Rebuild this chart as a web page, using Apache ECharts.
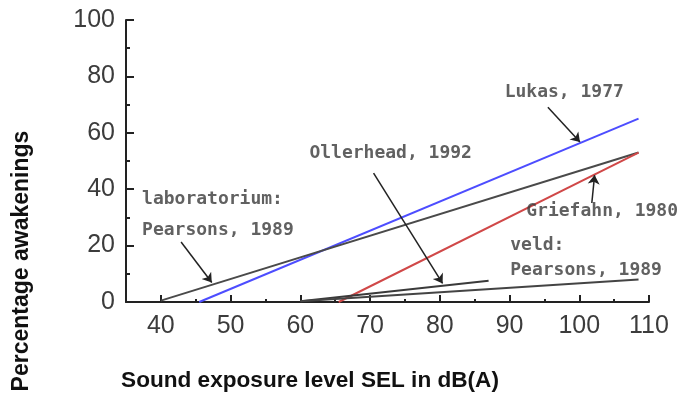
<!DOCTYPE html>
<html>
<head>
<meta charset="utf-8">
<script src="https://cdn.jsdelivr.net/npm/echarts@6/dist/echarts.min.js"></script>
<style>
  html, body { margin: 0; padding: 0; background: #fff; }
  #chart { width: 680px; height: 396px; }
</style>
</head>
<body>
<div id="chart"></div>
<script>
// Dose-response lines: [SEL dB(A), % awakenings] at start and end
const lukas1977 = [[45.5, 0], [108.5, 65]];
const labPearsons1989 = [[40, 0.5], [108.5, 53]];
const griefahn1980 = [[65.5, 0], [108.5, 53]];
const ollerhead1992 = [[60, 0.3], [87, 7.5]];
const veldPearsons1989 = [[60, 0.3], [108.5, 8]];

// Axis ticks
const xMajorTicks = [40, 50, 60, 70, 80, 90, 100, 110];
const xMinorTicks = [45, 55, 65, 75, 85, 95, 105];
const yTicks = [0, 20, 40, 60, 80, 100];

// Annotation labels: [x, y, text]
const annotationLabels = [
  [89.3, 74.5, 'Lukas, 1977'],
  [61.3, 52.8, 'Ollerhead, 1992'],
  [37.3, 36.5, 'laboratorium:'],
  [37.3, 25.5, 'Pearsons, 1989'],
  [92.4, 32.3, 'Griefahn, 1980'],
  [90.1, 20.2, 'veld:'],
  [90.1, 11.3, 'Pearsons, 1989']
];

// Pointer arrows: from label to line
const annotationArrows = [
  [[95.5, 69.1], [100.1, 56.7]],
  [[70.5, 45.7], [80.4, 6.6]],
  [[42.9, 21.3], [47.3, 6.9]],
  [[101.8, 35.1], [102.2, 45.0]]
];

const chart = echarts.init(document.getElementById('chart'), null, { renderer: 'canvas' });

const axisColor = '#222';
const labelFont = { fontFamily: 'Liberation Sans, Arial, sans-serif', fontSize: 25, color: '#3c3c3c' };
const annotFont = { fontFamily: 'DejaVu Sans Mono, monospace', fontWeight: 'bold', fontSize: 18, color: '#3a3a3a' };

function lineSeries(name, data, color, width) {
  return {
    name: name,
    type: 'line',
    data: data,
    symbol: 'none',
    lineStyle: { color: color, width: width },
    silent: true,
    z: 3
  };
}

chart.setOption({
  animation: false,
  backgroundColor: '#fff',
  grid: { left: 126, right: 31, top: 20, bottom: 94, containLabel: false },
  xAxis: [
    {
      type: 'value', min: 35, max: 110,
      axisLine: { show: true, lineStyle: { color: axisColor, width: 2 } },
      axisTick: { show: true, inside: true, length: 7, customValues: xMajorTicks, lineStyle: { color: axisColor, width: 2 } },
      axisLabel: Object.assign({ customValues: xMajorTicks, margin: 12 }, labelFont),
      splitLine: { show: false }
    },
    {
      type: 'value', min: 35, max: 110, position: 'bottom',
      axisLine: { show: false },
      axisTick: { show: true, inside: true, length: 3, customValues: xMinorTicks, lineStyle: { color: axisColor, width: 2 } },
      axisLabel: { show: false },
      splitLine: { show: false }
    }
  ],
  yAxis: {
    type: 'value', min: 0, max: 100, interval: 20,
    axisLine: { show: true, lineStyle: { color: axisColor, width: 2 } },
    axisTick: { show: true, inside: true, length: 8, lineStyle: { color: axisColor, width: 2 } },
    minorTick: { show: true, splitNumber: 2, length: 4, lineStyle: { color: axisColor, width: 2 } },
    axisLabel: Object.assign({ customValues: yTicks, margin: 11 }, labelFont),
    splitLine: { show: false }
  },
  graphic: [
    {
      type: 'text', x: 22, y: 261, rotation: Math.PI / 2,
      style: {
        text: 'Percentage awakenings', align: 'center', verticalAlign: 'middle',
        font: 'bold 23px "Liberation Sans", Arial, sans-serif', fill: '#111'
      }
    },
    {
      type: 'text', x: 310, y: 381,
      style: {
        text: 'Sound exposure level SEL in dB(A)', align: 'center', verticalAlign: 'middle',
        font: 'bold 22.6px "Liberation Sans", Arial, sans-serif', fill: '#111'
      }
    }
  ],
  series: [
    lineSeries('Lukas, 1977', lukas1977, '#4d4dff', 2),
    lineSeries('laboratorium: Pearsons, 1989', labPearsons1989, '#4a4a4a', 2),
    lineSeries('Griefahn, 1980', griefahn1980, '#d04848', 2),
    lineSeries('Ollerhead, 1992', ollerhead1992, '#3a3a3a', 2),
    lineSeries('veld: Pearsons, 1989', veldPearsons1989, '#444', 2),
    {
      type: 'lines',
      coordinateSystem: 'cartesian2d',
      symbol: ['none', 'arrow'],
      symbolSize: 9,
      silent: true,
      lineStyle: { color: '#222', width: 1.5, opacity: 1 },
      data: annotationArrows.map(function (a) { return { coords: a }; }),
      z: 4
    },
    {
      type: 'scatter',
      symbolSize: 0,
      silent: true,
      data: annotationLabels,
      label: Object.assign({
        show: true, position: 'right', distance: 0,
        align: 'left', verticalAlign: 'middle',
        formatter: function (p) { return p.data[2]; }
      }, annotFont),
      z: 5
    }
  ]
});
</script>
</body>
</html>
